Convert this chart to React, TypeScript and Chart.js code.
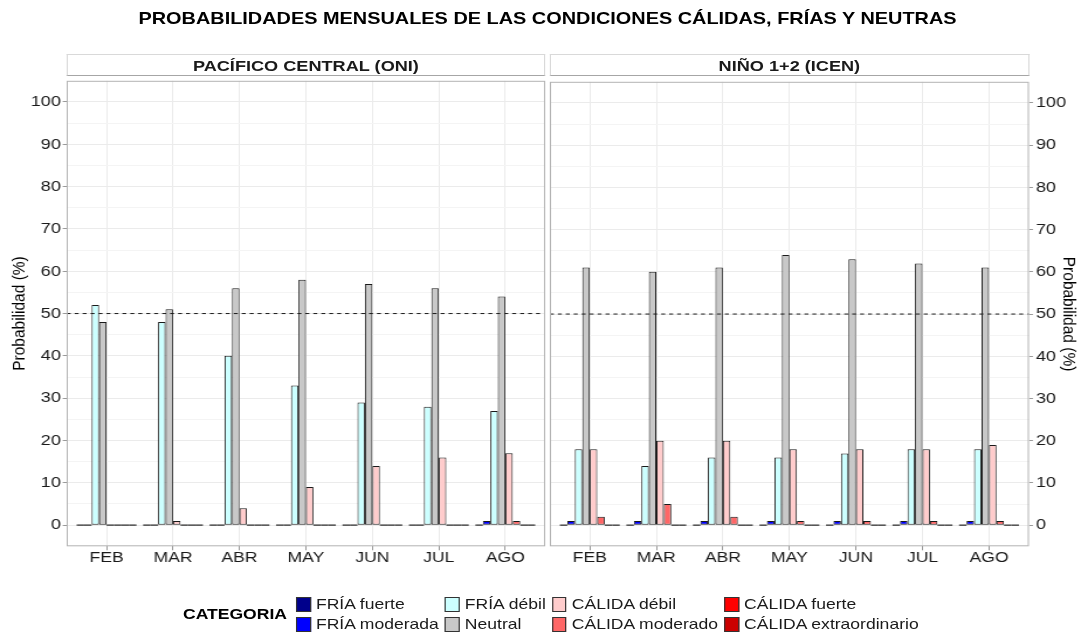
import React, { useEffect, useRef } from 'react';
import { Chart, registerables } from 'chart.js';

Chart.register(...registerables);

// ---------- data ----------
const TITLE = 'PROBABILIDADES MENSUALES DE LAS CONDICIONES CÁLIDAS, FRÍAS Y NEUTRAS';
const PANEL_TITLES = ['PACÍFICO CENTRAL (ONI)', 'NIÑO 1+2 (ICEN)'];
const MONTHS = ['FEB', 'MAR', 'ABR', 'MAY', 'JUN', 'JUL', 'AGO'];
const CATEGORIES = [
  'FRÍA fuerte',
  'FRÍA moderada',
  'FRÍA débil',
  'Neutral',
  'CÁLIDA débil',
  'CÁLIDA moderado',
  'CÁLIDA fuerte',
  'CÁLIDA extraordinario',
];
const CATEGORY_COLORS = ['#00008B', '#0000FF', '#CCFFFF', '#C8C8C8', '#FFCCCC', '#FF6666', '#FF0000', '#CC0000'];

const ONI_FRIA_FUERTE = [0, 0, 0, 0, 0, 0, 0];
const ONI_FRIA_MODERADA = [0, 0, 0, 0, 0, 0, 1];
const ONI_FRIA_DEBIL = [52, 48, 40, 33, 29, 28, 27];
const ONI_NEUTRAL = [48, 51, 56, 58, 57, 56, 54];
const ONI_CALIDA_DEBIL = [0, 1, 4, 9, 14, 16, 17];
const ONI_CALIDA_MODERADO = [0, 0, 0, 0, 0, 0, 1];
const ONI_CALIDA_FUERTE = [0, 0, 0, 0, 0, 0, 0];
const ONI_CALIDA_EXTRAORDINARIO = [0, 0, 0, 0, 0, 0, 0];

const ICEN_FRIA_FUERTE = [0, 0, 0, 0, 0, 0, 0];
const ICEN_FRIA_MODERADA = [1, 1, 1, 1, 1, 1, 1];
const ICEN_FRIA_DEBIL = [18, 14, 16, 16, 17, 18, 18];
const ICEN_NEUTRAL = [61, 60, 61, 64, 63, 62, 61];
const ICEN_CALIDA_DEBIL = [18, 20, 20, 18, 18, 18, 19];
const ICEN_CALIDA_MODERADO = [2, 5, 2, 1, 1, 1, 1];
const ICEN_CALIDA_FUERTE = [0, 0, 0, 0, 0, 0, 0];
const ICEN_CALIDA_EXTRAORDINARIO = [0, 0, 0, 0, 0, 0, 0];

const ONI_SERIES = [
  ONI_FRIA_FUERTE, ONI_FRIA_MODERADA, ONI_FRIA_DEBIL, ONI_NEUTRAL,
  ONI_CALIDA_DEBIL, ONI_CALIDA_MODERADO, ONI_CALIDA_FUERTE, ONI_CALIDA_EXTRAORDINARIO,
];
const ICEN_SERIES = [
  ICEN_FRIA_FUERTE, ICEN_FRIA_MODERADA, ICEN_FRIA_DEBIL, ICEN_NEUTRAL,
  ICEN_CALIDA_DEBIL, ICEN_CALIDA_MODERADO, ICEN_CALIDA_FUERTE, ICEN_CALIDA_EXTRAORDINARIO,
];

const Y_MAJOR_TICKS = [0, 10, 20, 30, 40, 50, 60, 70, 80, 90, 100];
const Y_MINOR_TICKS = [5, 15, 25, 35, 45, 55, 65, 75, 85, 95];
const THRESHOLD = 50;
const Y_TITLE = 'Probabilidad (%)';
const LEGEND_TITLE = 'CATEGORIA';

// ---------- style ----------
const FONT = "'Liberation Sans', Arial, Helvetica, sans-serif";
const STRETCH = 1088 / 930;
const DESIGN_W = 930;
const CANVAS_TOP = 70;
const CANVAS_H = 500;

const panelPlugin = {
  id: 'panelDecor',
  afterDatasetsDraw(chart: any) {
    const { ctx, chartArea: a, scales } = chart;
    const y = scales.y;
    const y0 = y.getPixelForValue(0);
    ctx.save();
    // zero-height bars drawn as flat outlines
    ctx.strokeStyle = '#4d4d4d';
    ctx.lineWidth = 1.5;
    chart.data.datasets.forEach((ds: any, di: number) => {
      const meta = chart.getDatasetMeta(di);
      meta.data.forEach((el: any, i: number) => {
        if (ds.data[i].y === 0) {
          const { x, width } = el.getProps(['x', 'width'], true);
          ctx.beginPath();
          ctx.moveTo(x - width / 2, y0);
          ctx.lineTo(x + width / 2, y0);
          ctx.stroke();
        }
      });
    });
    // threshold dashed line
    const yt = y.getPixelForValue(THRESHOLD);
    ctx.setLineDash([3.4, 3.4]);
    ctx.strokeStyle = '#1a1a1a';
    ctx.lineWidth = 1;
    ctx.beginPath();
    ctx.moveTo(a.left, yt);
    ctx.lineTo(a.right, yt);
    ctx.stroke();
    ctx.setLineDash([]);
    // panel border
    ctx.strokeStyle = '#B3B3B3';
    ctx.lineWidth = 1;
    ctx.strokeRect(a.left + 0.5, a.top + 0.5, a.right - a.left - 1, a.bottom - a.top - 1);
    ctx.restore();
  },
};

type PanelProps = {
  series: number[][];
  side: 'left' | 'right';
  left: number;
  width: number;
};

function Panel({ series, side, left, width }: PanelProps) {
  const ref = useRef<HTMLCanvasElement>(null);
  useEffect(() => {
    const yTicks = [...Y_MAJOR_TICKS, ...Y_MINOR_TICKS].sort((p, q) => p - q);
    const chart = new Chart(ref.current as HTMLCanvasElement, {
      type: 'bar',
      data: {
        datasets: CATEGORIES.map((name, k) => ({
          label: name,
          data: series[k].map((v, i) => ({ x: i, y: v })),
          backgroundColor: CATEGORY_COLORS[k],
          borderColor: '#1a1a1a',
          borderWidth: (c: any) => (c.raw && c.raw.y === 0 ? 0 : 1),
          borderSkipped: false,
          categoryPercentage: 0.9,
          barPercentage: 1,
        })) as any,
      },
      options: {
        animation: false,
        responsive: false,
        devicePixelRatio: 1,
        layout: {
          padding: side === 'left' ? { top: 5.5, right: 2, left: 0, bottom: 0 } : { top: 5.5, right: 0, left: 2, bottom: 0 },
        },
        plugins: { legend: { display: false }, tooltip: { enabled: false } },
        scales: {
          x: {
            type: 'linear',
            min: -0.6,
            max: 6.6,
            offset: false,
            afterBuildTicks: (s: any) => {
              s.ticks = MONTHS.map((_, i) => ({ value: i }));
            },
            afterFit: (s: any) => {
              s.height = 23.7;
            },
            ticks: {
              callback: (v: any) => MONTHS[v] ?? '',
              autoSkip: false,
              maxRotation: 0,
              padding: -1,
              color: '#1a1a1a',
              font: { family: FONT, size: 15 },
            },
            grid: { offset: false, color: '#EBEBEB', tickColor: '#999999', tickLength: 4, lineWidth: 1 },
            border: { display: false },
          },
          y: {
            type: 'linear',
            position: side,
            min: -5,
            max: 105,
            afterBuildTicks: (s: any) => {
              s.ticks = yTicks.map((v) => ({ value: v }));
            },
            afterFit: (s: any) => {
              s.width = side === 'left' ? 57 : 50.5;
            },
            ticks: {
              callback: (v: any) => (Y_MAJOR_TICKS.includes(v) ? String(v) : ''),
              autoSkip: false,
              padding: side === 'left' ? 1.5 : 2.5,
              color: '#1a1a1a',
              font: { family: FONT, size: 15.5 },
            },
            grid: {
              color: (c: any) => (c.tick && Y_MAJOR_TICKS.includes(c.tick.value) ? '#EBEBEB' : '#F4F4F4'),
              tickColor: (c: any) => (c.tick && Y_MAJOR_TICKS.includes(c.tick.value) ? '#999999' : 'rgba(0,0,0,0)'),
              tickLength: 3.4,
              lineWidth: 1,
            },
            border: { display: false },
            title: {
              display: true,
              text: Y_TITLE,
              color: '#000000',
              font: { family: FONT, size: 15.5 },
              padding: { top: 7, bottom: 7 },
            },
          },
        },
      } as any,
      plugins: [panelPlugin],
    });
    return () => chart.destroy();
  }, [series, side]);
  return (
    <canvas
      ref={ref}
      width={width}
      height={CANVAS_H}
      style={{ position: 'absolute', left, top: CANVAS_TOP, width, height: CANVAS_H }}
    />
  );
}

function Strip({ text, left, width }: { text: string; left: number; width: number }) {
  return (
    <div
      style={{
        position: 'absolute',
        left,
        top: 54,
        width,
        height: 22,
        boxSizing: 'border-box',
        border: '1px solid #D9D9D9',
        borderBottom: '1px solid #A6A6A6',
        display: 'flex',
        alignItems: 'center',
        justifyContent: 'center',
        fontFamily: FONT,
        fontWeight: 'bold',
        fontSize: 15.5,
        color: '#1a1a1a',
        paddingTop: 1,
        background: '#fff',
      }}
    >
      {text}
    </div>
  );
}

const LEGEND_COLUMNS = [0, 1, 2, 3];

export default function App() {
  return (
    <div style={{ position: 'absolute', left: 0, top: 0, width: 1088, height: 632, overflow: 'hidden', background: '#fff' }}>
      <div
        style={{
          position: 'absolute',
          left: 0,
          top: 0,
          width: DESIGN_W,
          height: 632,
          transform: `scaleX(${STRETCH})`,
          transformOrigin: '0 0',
        }}
      >
        <div
          style={{
            position: 'absolute',
            left: 0,
            top: 9,
            width: 936,
            textAlign: 'center',
            fontFamily: FONT,
            fontWeight: 'bold',
            fontSize: 17,
            lineHeight: '20px',
            color: '#000',
            whiteSpace: 'nowrap',
          }}
        >
          {TITLE}
        </div>
        <Strip text={PANEL_TITLES[0]} left={57} width={409} />
        <Strip text={PANEL_TITLES[1]} left={470} width={409.5} />
        <Panel series={ONI_SERIES} side="left" left={0} width={468} />
        <Panel series={ICEN_SERIES} side="right" left={468} width={462} />
        <div
          style={{
            position: 'absolute',
            left: 156.4,
            top: 606,
            fontFamily: FONT,
            fontWeight: 'bold',
            fontSize: 15,
            lineHeight: '16px',
            color: '#000',
            whiteSpace: 'nowrap',
          }}
        >
          {LEGEND_TITLE}
        </div>
        <div
          style={{
            position: 'absolute',
            left: 253,
            top: 594,
            display: 'flex',
            flexDirection: 'row',
            columnGap: 5.1,
            fontFamily: FONT,
            fontSize: 15,
            color: '#1a1a1a',
          }}
        >
          {LEGEND_COLUMNS.map((col) => (
            <div key={col} style={{ display: 'flex', flexDirection: 'column' }}>
              {[0, 1].map((row) => {
                const k = col * 2 + row;
                return (
                  <div key={row} style={{ display: 'flex', alignItems: 'center', height: 20, whiteSpace: 'nowrap' }}>
                    <div
                      style={{
                        width: 12.8,
                        height: 15,
                        boxSizing: 'border-box',
                        border: '1px solid #333',
                        background: CATEGORY_COLORS[k],
                        marginRight: 4.3,
                        flex: 'none',
                      }}
                    />
                    <span style={{ lineHeight: '16px' }}>{CATEGORIES[k]}</span>
                  </div>
                );
              })}
            </div>
          ))}
        </div>
      </div>
    </div>
  );
}
